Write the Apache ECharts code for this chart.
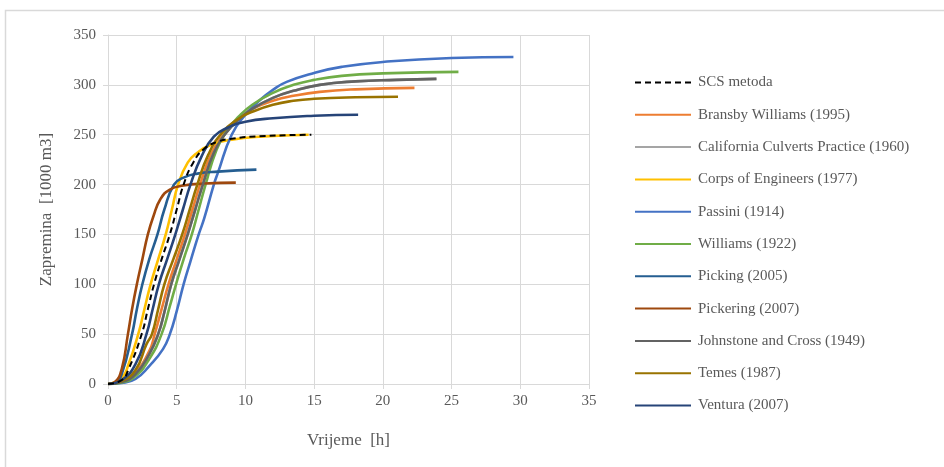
<!DOCTYPE html>
<html>
<head>
<meta charset="utf-8">
<script src="https://cdn.jsdelivr.net/npm/echarts@6/dist/echarts.min.js"></script>
<style>
	html, body { margin: 0; padding: 0; background: #fff; }
	#chart { width: 944px; height: 467px; }
</style>
</head>
<body>
<div id="chart"></div>
<script>
// #region Data  [vrijeme h, zapremina 1000 m3]
const xTicks = [0, 5, 10, 15, 20, 25, 30, 35];
const yTicks = [0, 50, 100, 150, 200, 250, 300, 350];

const scs = [[0,0],[1,4],[1.5,15],[2.45,50],[2.9,75],[3.35,100],[3.9,125],[4.5,150],[5,175],[5.5,200],[6.2,222],[7,236],[8,243],[9,246],[11,248.5],[14.8,250]];
const bransby = [[0,0],[1,2.5],[2,12],[3,33],[3.4,50],[3.9,75],[4.4,100],[5,125],[5.6,150],[6.15,175],[6.7,200],[7.5,230],[8.5,252],[9.5,266],[10.5,276],[12,284],[13.5,289],[15.4,293],[18,295.5],[22.3,297]];
const california = [[0,0],[1,2],[2,10],[3,30],[3.65,50],[4.1,72],[4.6,100],[5.2,125],[5.8,150],[6.35,175],[6.9,200],[7.7,232],[8.6,252],[9.5,265],[10.5,276],[12,287],[13.5,294],[15.4,300],[18,303.5],[21,305],[23.9,306]];
const corps = [[0,0],[1,6],[1.5,20],[2.2,50],[2.65,75],[3.1,100],[3.65,125],[4.2,150],[4.65,175],[5.1,200],[5.8,222],[6.5,232],[7.5,240],[9,245],[11,248],[14.6,250]];
const passini = [[0,0],[1,1],[2,5],[3,18],[4,35],[4.5,50],[5,73],[5.5,100],[6,123],[6.6,150],[7,166],[7.7,200],[8,212],[9,250],[10,270],[11,284],[12,295],[13,303],[15,312],[17,318],[20,323],[25,327],[29.5,328]];
const williams = [[0,0],[1,1.5],[2,8],[3,25],[3.9,50],[4.5,78],[4.95,100],[5.5,125],[6.1,150],[6.6,175],[7.1,200],[7.9,235],[8.7,255],[9.5,268],[10.5,280],[12,292],[13.5,300],[15,305],[17,309],[20,311.5],[25.5,313]];
const picking = [[0,0],[0.5,1],[1,10],[1.75,50],[2.1,75],[2.5,100],[3,125],[3.6,150],[4.1,175],[4.8,200],[5.5,207],[6.5,211],[8,213],[10.8,215]];
const pickering = [[0,0],[0.5,2],[1,15],[1.45,50],[1.75,75],[2.1,100],[2.5,125],[2.9,150],[3.3,168],[3.8,185],[4.5,195],[5.5,199],[7,201],[9.3,202]];
const johnstone = [[0,0],[1,2],[2,10],[3,30],[3.65,50],[4.1,72],[4.6,100],[5.2,125],[5.8,150],[6.35,175],[6.9,200],[7.7,232],[8.6,252],[9.5,265],[10.5,276],[12,287],[13.5,294],[15.4,300],[18,303.5],[21,305],[23.9,306]];
const temes = [[0,0],[1,3],[2,14],[2.8,40],[3.2,50],[3.65,75],[4.1,100],[4.75,125],[5.4,150],[5.95,175],[6.5,200],[7.3,230],[8.3,252],[9.5,266],[10.5,273],[12,280],[13.5,284],[15,286],[18,287.5],[21.1,288]];
const ventura = [[0,0],[1,4],[2,20],[2.8,50],[3.25,75],[3.7,100],[4.3,125],[4.9,150],[5.45,175],[6,200],[6.8,228],[7.7,248],[8.7,257],[10,263],[12,266.5],[15,269],[18.2,270]];
// #endregion

const seriesDef = [
	{ name: "SCS metoda", data: scs, color: "#000000", dash: true },
	{ name: "Bransby Williams (1995)", data: bransby, color: "#ED7D31" },
	{ name: "California Culverts Practice (1960)", data: california, color: "#A5A5A5" },
	{ name: "Corps of Engineers (1977)", data: corps, color: "#FFC000" },
	{ name: "Passini (1914)", data: passini, color: "#4472C4" },
	{ name: "Williams (1922)", data: williams, color: "#70AD47" },
	{ name: "Picking (2005)", data: picking, color: "#255E91" },
	{ name: "Pickering (2007)", data: pickering, color: "#9E480E" },
	{ name: "Johnstone and Cross (1949)", data: johnstone, color: "#636363" },
	{ name: "Temes (1987)", data: temes, color: "#997300" },
	{ name: "Ventura (2007)", data: ventura, color: "#264478" }
];

const font = "'Liberation Serif', 'DejaVu Serif', serif";
const textCol = "#595959";
const gridCol = "#d9d9d9";

const chart = echarts.init(document.getElementById("chart"), null, { renderer: "canvas" });

const option = {
	animation: false,
	backgroundColor: "#fff",
	textStyle: { fontFamily: font },
	graphic: [{
		type: "rect",
		shape: { x: 5.5, y: 10.5, width: 945, height: 470 },
		style: { fill: "none", stroke: gridCol, lineWidth: 1.5 },
		z: -1
	}],
	grid: { left: 108, right: 355, top: 35, bottom: 83 },
	legend: {
		orient: "vertical",
		left: 629,
		top: 70,
		itemWidth: 56,
		itemHeight: 3,
		itemGap: 17.3,
		itemStyle: { opacity: 0 },
		textStyle: { fontFamily: font, fontSize: 15, color: textCol, padding: [0, 0, 0, 2] },
		data: seriesDef.map(s => s.name)
	},
	xAxis: {
		type: "value",
		min: 0,
		max: 35,
		interval: 5,
		name: "Vrijeme  [h]",
		nameLocation: "middle",
		nameGap: 48,
		nameTextStyle: { fontFamily: font, fontSize: 17, color: textCol },
		axisLine: { show: true, lineStyle: { color: gridCol } },
		axisTick: { show: true, length: 5, lineStyle: { color: gridCol } },
		axisLabel: { fontFamily: font, fontSize: 15, color: textCol, margin: 10 },
		splitLine: { show: true, lineStyle: { color: gridCol, width: 1 } }
	},
	yAxis: {
		type: "value",
		min: 0,
		max: 350,
		interval: 50,
		name: "Zapremina  [1000 m3]",
		nameLocation: "middle",
		nameGap: 53,
		nameTextStyle: { fontFamily: font, fontSize: 17, color: textCol },
		axisLine: { show: true, lineStyle: { color: gridCol } },
		axisTick: { show: true, length: 5, lineStyle: { color: gridCol } },
		axisLabel: { fontFamily: font, fontSize: 15, color: textCol, margin: 12 },
		splitLine: { show: true, lineStyle: { color: gridCol, width: 1 } }
	},
	series: seriesDef.map(s => ({
		name: s.name,
		type: "line",
		data: s.data,
		smooth: 0.5,
		symbol: "none",
		z: s.dash ? 5 : 2,
		color: s.color,
		lineStyle: { color: s.color, width: s.dash ? 2 : 2.6, type: s.dash ? [6, 4] : "solid" }
	}))
};

chart.setOption(option);
</script>
</body>
</html>
